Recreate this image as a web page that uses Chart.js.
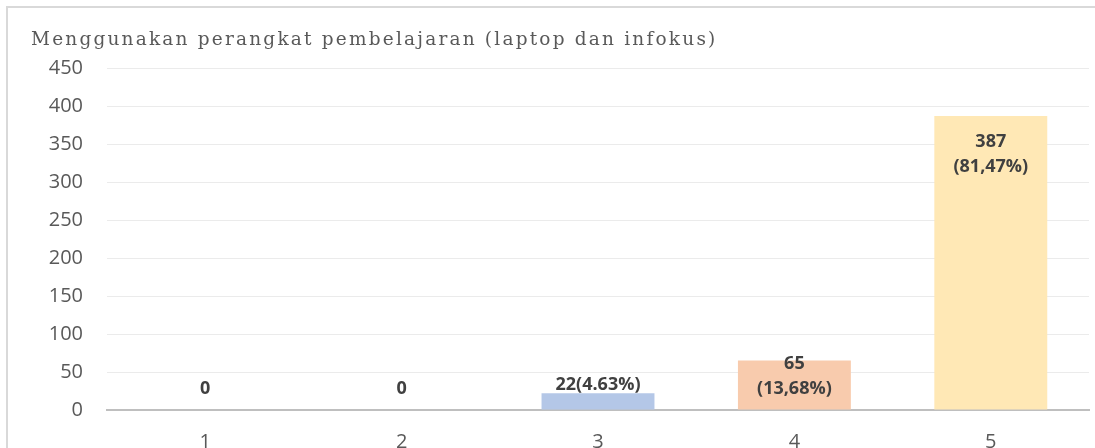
<!DOCTYPE html>
<html>
<head>
<meta charset="utf-8">
<script src="https://cdn.jsdelivr.net/npm/chart.js@4.4.1/dist/chart.umd.min.js"></script>
<style>
  html, body { margin: 0; padding: 0; background: #fff; overflow: hidden; }
  #wrap { position: relative; width: 1095px; height: 448px; }
  #frame { position: absolute; left: 6px; top: 6px; width: 1100px; height: 460px; border: 2px solid #d9d9d9; box-sizing: border-box; pointer-events: none; }
  canvas { position: absolute; left: 0; top: 0; }
</style>
</head>
<body>
<div id="wrap">
  <canvas id="c" width="1095" height="448"></canvas>
  <div id="frame"></div>
</div>
<script>
const titleText = "Menggunakan perangkat pembelajaran (laptop dan infokus)";
const categories = ["1", "2", "3", "4", "5"];
const values = [0, 0, 22, 65, 387];
const valueLabels = ["0", "0", "22(4.63%)", "65\n(13,68%)", "387\n(81,47%)"];
const barColors = ["#9DC3E6", "#A9D18E", "#B4C7E7", "#F8CBAD", "#FFE8B5"];
const yTicks = [0, 50, 100, 150, 200, 250, 300, 350, 400, 450];

const titlePlugin = {
  id: 'spacedTitle',
  afterDraw(chart) {
    const ctx = chart.ctx;
    ctx.save();
    ctx.font = '18.5px "DejaVu Serif"';
    ctx.fillStyle = '#595959';
    ctx.textBaseline = 'alphabetic';
    ctx.textAlign = 'left';
    ctx.letterSpacing = '2.2px';
    ctx.fillText(titleText, 31, 45);
    ctx.restore();
  }
};

const labelPlugin = {
  id: 'valueLabels',
  afterDatasetsDraw(chart) {
    const ctx = chart.ctx;
    const meta = chart.getDatasetMeta(0);
    const base = chart.scales.y.getPixelForValue(0);
    const lh = 25;
    ctx.save();
    ctx.font = 'bold 18px "Open Sans"';
    ctx.fillStyle = '#404040';
    ctx.textAlign = 'center';
    ctx.textBaseline = 'middle';
    meta.data.forEach((bar, i) => {
      const lines = valueLabels[i].split('\n');
      const top = bar.y;
      let first;
      if (lines.length === 1) {
        first = Math.min(top - 8, base - 21);
      } else {
        first = top + 26;
        const last = first + lh * (lines.length - 1);
        if (last > base - 21) first -= (last - (base - 21));
      }
      lines.forEach((t, k) => ctx.fillText(t, bar.x, first + k * lh));
    });
    ctx.restore();
  }
};

new Chart(document.getElementById('c'), {
  type: 'bar',
  data: {
    labels: categories,
    datasets: [{
      data: values,
      backgroundColor: barColors,
      borderWidth: 0,
      categoryPercentage: 1,
      barPercentage: 0.575
    }]
  },
  options: {
    responsive: false,
    animation: false,
    events: [],
    layout: { padding: { top: 68, right: 6, bottom: 0, left: 0 } },
    plugins: { legend: { display: false }, title: { display: false }, tooltip: { enabled: false } },
    scales: {
      x: {
        grid: { display: false, drawTicks: false },
        border: { display: true, color: '#BFBFBF', width: 2 },
        ticks: { color: '#595959', font: { family: 'Open Sans', size: 20 }, padding: 20 },
        afterFit(s) { s.height = 38; }
      },
      y: {
        min: 0, max: 450,
        afterBuildTicks(s) { s.ticks = yTicks.map(v => ({ value: v })); },
        grid: { color: '#EBEBEB', lineWidth: 1, drawTicks: false },
        border: { display: false },
        ticks: { color: '#595959', font: { family: 'Open Sans', size: 20 }, padding: 24 },
        afterFit(s) { s.width = 107; }
      }
    }
  },
  plugins: [titlePlugin, labelPlugin]
});
</script>
</body>
</html>
